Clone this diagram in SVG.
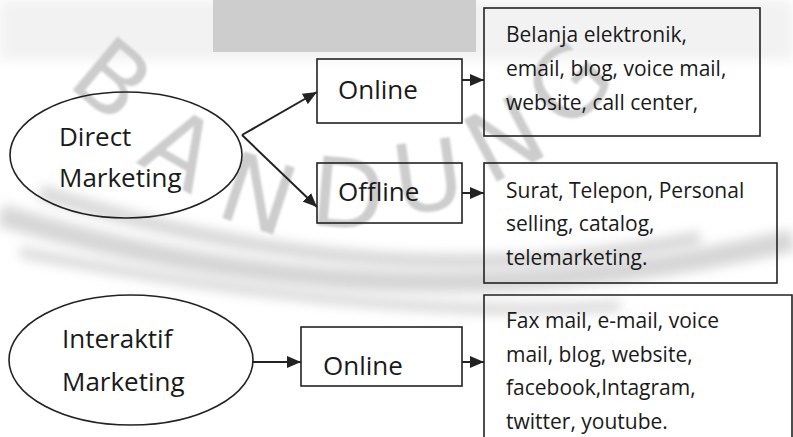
<svg xmlns="http://www.w3.org/2000/svg" width="793" height="437" viewBox="0 0 793 437">
  <defs>
    <marker id="arrow" viewBox="0 0 14 12" refX="14" refY="6" markerWidth="14" markerHeight="12" markerUnits="userSpaceOnUse" orient="auto">
      <path d="M0,0 L14,6 L0,12 Z" fill="#222"/>
    </marker>
    <filter id="blur" x="-10%" y="-50%" width="120%" height="200%">
      <feGaussianBlur stdDeviation="6"/>
    </filter>
    <filter id="soft" x="-20%" y="-20%" width="140%" height="140%">
      <feGaussianBlur stdDeviation="1.2"/>
    </filter>
  </defs>
  <style>
    .shape { fill: none; stroke: #222; stroke-width: 1.6; }
    .box { fill: none; stroke: #222; stroke-width: 1.6; }
    .conn { fill: none; stroke: #222; stroke-width: 2; marker-end: url(#arrow); }
    .lbl { font-family: "Open Sans", "Noto Sans", sans-serif; font-size: 26px; fill: #1a1a1a; }
    .txt { font-family: "Open Sans", "Noto Sans", sans-serif; font-size: 21px; fill: #1a1a1a; }
    .wm { font-family: "DejaVu Sans", sans-serif; font-size: 96px; fill: #c4c4c4; fill-opacity: 0.85; filter: url(#soft); }
    .wmarc { fill: none; stroke: #d6d6d6; filter: url(#blur); }
  </style>
  <rect x="0" y="0" width="793" height="437" fill="#ffffff"/>
  <g id="watermark">
    <rect x="0" y="0" width="793" height="60" fill="#f2f2f2" filter="url(#blur)"/>
    <rect x="213" y="0" width="263" height="52" fill="#cdcdcd"/>
    <path class="wmarc" stroke-width="22" d="M0,215 Q390,335 793,240"/>
    <path class="wmarc" stroke-width="14" d="M40,192 Q380,302 700,238"/>
    <path class="wmarc" stroke-width="10" d="M20,252 Q380,322 620,306"/>
    <text class="wm" transform="translate(112,80) rotate(40)" text-anchor="middle" dominant-baseline="central">B</text>
    <text class="wm" transform="translate(180,150) rotate(30)" text-anchor="middle" dominant-baseline="central">A</text>
    <text class="wm" transform="translate(258,195) rotate(18)" text-anchor="middle" dominant-baseline="central">N</text>
    <text class="wm" transform="translate(348,195) rotate(5)" text-anchor="middle" dominant-baseline="central">D</text>
    <text class="wm" transform="translate(428,178) rotate(-8)" text-anchor="middle" dominant-baseline="central">U</text>
    <text class="wm" transform="translate(505,140) rotate(-28)" text-anchor="middle" dominant-baseline="central">N</text>
    <text class="wm" transform="translate(570,85) rotate(-45)" text-anchor="middle" dominant-baseline="central">G</text>
  </g>
  <g id="connectors">
    <line class="conn" x1="242" y1="135" x2="317" y2="92"/>
    <line class="conn" x1="242" y1="135" x2="317" y2="207"/>
    <line class="conn" x1="462" y1="80" x2="484" y2="80"/>
    <line class="conn" x1="462" y1="193" x2="484" y2="193"/>
    <line class="conn" x1="252" y1="362" x2="301" y2="362"/>
    <line class="conn" x1="462" y1="362" x2="484" y2="362"/>
  </g>
  <g id="direct-marketing">
    <ellipse class="shape" cx="126" cy="155" rx="116" ry="63"/>
    <text class="lbl" x="59" y="146">Direct</text>
    <text class="lbl" x="59" y="187">Marketing</text>
  </g>
  <g id="online-1">
    <rect class="box" x="317" y="59" width="145" height="64"/>
    <text class="lbl" x="338" y="99">Online</text>
  </g>
  <g id="offline">
    <rect class="box" x="317" y="163" width="145" height="60"/>
    <text class="lbl" x="338" y="201">Offline</text>
  </g>
  <g id="online-detail">
    <rect class="box" x="484" y="8" width="276" height="128"/>
    <text class="txt" x="506" y="42">Belanja elektronik,</text>
    <text class="txt" x="506" y="76">email, blog, voice mail,</text>
    <text class="txt" x="506" y="110">website, call center,</text>
  </g>
  <g id="offline-detail">
    <rect class="box" x="484" y="163" width="293" height="120"/>
    <text class="txt" x="506" y="198">Surat, Telepon, Personal</text>
    <text class="txt" x="506" y="231">selling, catalog,</text>
    <text class="txt" x="506" y="265">telemarketing.</text>
  </g>
  <g id="interaktif-marketing">
    <ellipse class="shape" cx="131" cy="360" rx="122" ry="65"/>
    <text class="lbl" x="62" y="348">Interaktif</text>
    <text class="lbl" x="62" y="391">Marketing</text>
  </g>
  <g id="online-2">
    <rect class="box" x="301" y="327" width="161" height="59"/>
    <text class="lbl" x="323" y="375">Online</text>
  </g>
  <g id="interaktif-detail">
    <path class="shape" d="M484,440 L484,295 L792,295 L792,440"/>
    <text class="txt" x="506" y="328">Fax mail, e-mail, voice</text>
    <text class="txt" x="506" y="362">mail, blog, website,</text>
    <text class="txt" x="506" y="395">facebook,Intagram,</text>
    <text class="txt" x="506" y="429">twitter, youtube.</text>
  </g>
</svg>
